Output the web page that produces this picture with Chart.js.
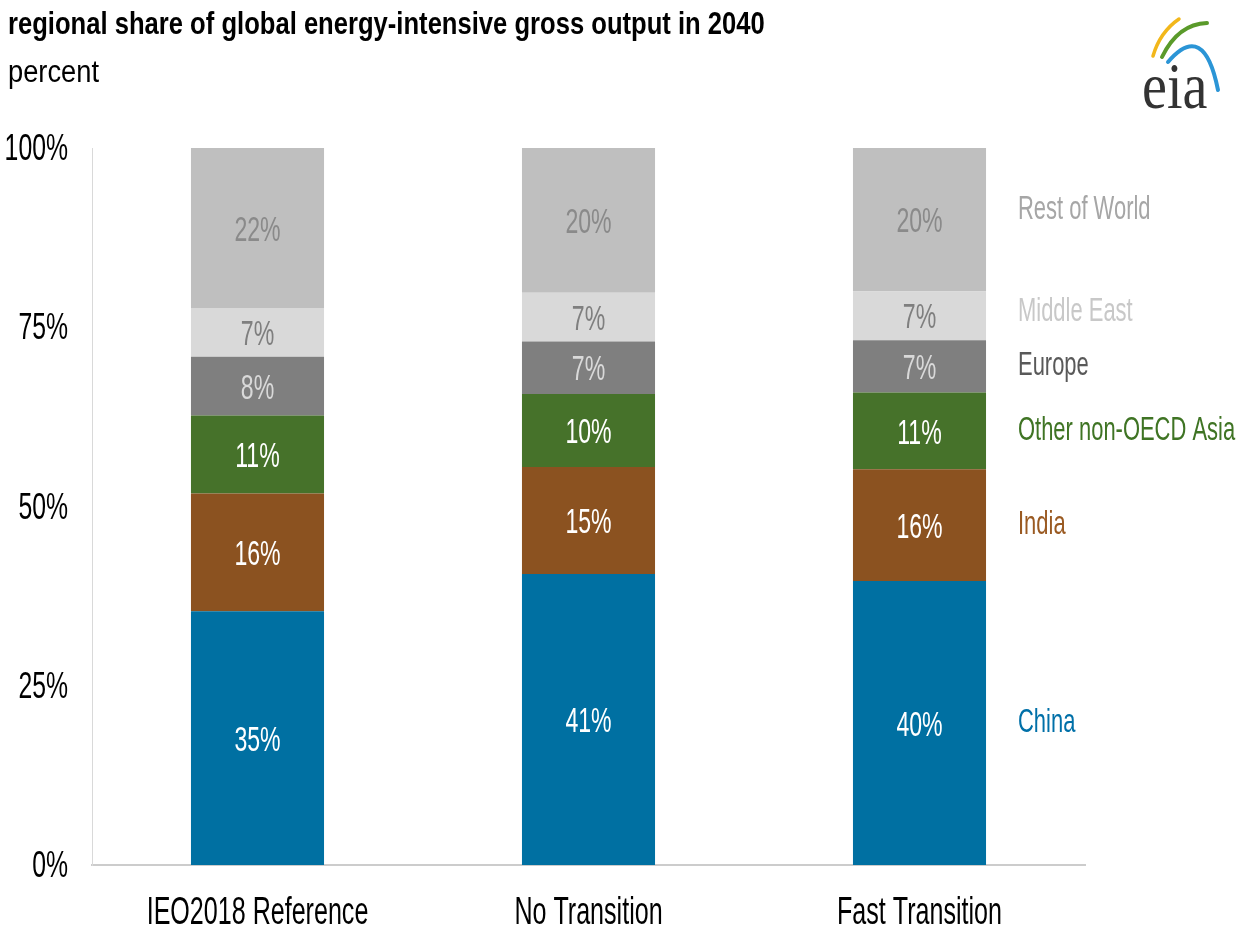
<!DOCTYPE html>
<html>
<head>
<meta charset="utf-8">
<script src="https://cdn.jsdelivr.net/npm/chart.js@4"></script>
<style>
  html, body { margin: 0; padding: 0; background: #ffffff; }
  #wrap { position: relative; width: 1243px; height: 934px; overflow: hidden; }
  #chart { position: absolute; left: 0; top: 0; }
  .ttl { position: absolute; left: 8px; font-family: "Liberation Sans", Arial, sans-serif; color: #000; white-space: nowrap; transform-origin: 0 0; }
  #title { top: 5px; font-size: 32px; font-weight: bold; transform: scaleX(0.80); }
  #unit { top: 54px; font-size: 31px; transform: scaleX(0.88); }
  #logo { position: absolute; left: 1100px; top: 0px; width: 143px; height: 120px; }
</style>
</head>
<body>
<div id="wrap">
  <canvas id="chart" width="1243" height="934"></canvas>
  <div id="title" class="ttl">regional share of global energy-intensive gross output in 2040</div>
  <div id="unit" class="ttl">percent</div>
  <svg id="logo" viewBox="1100 0 143 120">
    <path d="M1153 56 Q1160 32 1179 19" stroke="#f2b71b" stroke-width="3.5" fill="none" stroke-linecap="round"/>
    <path d="M1162 57 Q1178 24 1207 23" stroke="#5a9a2a" stroke-width="4" fill="none" stroke-linecap="round"/>
    <path d="M1168 62 Q1204 20 1218 90" stroke="#2b95d6" stroke-width="4" fill="none" stroke-linecap="round"/>
    <text x="1142" y="108" transform="translate(1142 0) scale(0.85 1) translate(-1142 0)" font-family="Liberation Serif, DejaVu Serif, serif" font-size="66" fill="#333333">eia</text>
  </svg>
</div>
<script>
// scenarios and regional shares (percent of global energy-intensive gross output, 2040)
const scenarios = ["IEO2018 Reference", "No Transition", "Fast Transition"];
const regions = ["China", "India", "Other non-OECD Asia", "Europe", "Middle East", "Rest of World"];
const china       = [35.4, 40.6, 39.6];
const india       = [16.4, 14.9, 15.6];
const otherAsia   = [10.9, 10.2, 10.7];
const europe      = [8.2, 7.3, 7.3];
const middleEast  = [6.8, 6.8, 6.8];
const restOfWorld = [22.3, 20.2, 20.0];
const yTicks = [0, 25, 50, 75, 100];

const seriesValues = [china, india, otherAsia, europe, middleEast, restOfWorld];
const fillColors  = ["#0070a2", "#8b5220", "#46722a", "#7f7f7f", "#d9d9d9", "#bfbfbf"];
const valueColors = ["#ffffff", "#ffffff", "#ffffff", "#d9d9d9", "#7f7f7f", "#8a8a8a"];
const nameColors  = ["#0070a8", "#9a5a22", "#3f7424", "#595959", "#c8c8c8", "#a6a6a6"];
const nameNudge   = [0, 0, 0, 0, -4, -10];

const FONT = '"Liberation Sans", Arial, sans-serif';

// narrow text: draw with a horizontal squeeze around the anchor point
function squeezedText(ctx, text, x, y, align, size, color, sx) {
  ctx.save();
  ctx.translate(x, y);
  ctx.scale(sx, 1);
  ctx.font = size + "px " + FONT;
  ctx.fillStyle = color;
  ctx.textAlign = align;
  ctx.textBaseline = "middle";
  ctx.fillText(text, 0, 0);
  ctx.restore();
}

// axis labels, value labels in each segment, region names beside the last bar
const chartText = {
  id: "chartText",
  afterDraw(chart) {
    const ctx = chart.ctx;
    const xs = chart.scales.x, ys = chart.scales.y;
    yTicks.forEach(v => {
      squeezedText(ctx, v + "%", 68, ys.getPixelForValue(v) + 2, "right", 37, "#000", 0.67);
    });
    chart.data.labels.forEach((lab, j) => {
      squeezedText(ctx, lab, xs.getPixelForValue(j), 914, "center", 38, "#000", 0.66);
    });
    chart.data.datasets.forEach((ds, i) => {
      const meta = chart.getDatasetMeta(i);
      meta.data.forEach((bar, j) => {
        const v = ds.data[j];
        squeezedText(ctx, Math.round(v) + "%", bar.x, (bar.y + bar.base) / 2 + 3, "center", 35, valueColors[i], 0.66);
      });
    });
    const last = scenarios.length - 1;
    chart.data.datasets.forEach((ds, i) => {
      const bar = chart.getDatasetMeta(i).data[last];
      const y = (bar.y + bar.base) / 2 + nameNudge[i];
      squeezedText(ctx, ds.label, 1018, y, "left", 33, nameColors[i], 0.665);
    });
  }
};

new Chart(document.getElementById("chart"), {
  type: "bar",
  data: {
    labels: scenarios,
    datasets: regions.map((r, i) => ({
      label: r,
      data: seriesValues[i],
      backgroundColor: fillColors[i],
      borderWidth: 0,
      categoryPercentage: 1,
      barPercentage: 0.402
    }))
  },
  options: {
    responsive: false,
    animation: false,
    layout: { padding: { top: 148, right: 158, left: 0, bottom: 0 } },
    plugins: { legend: { display: false }, tooltip: { enabled: false } },
    scales: {
      x: {
        stacked: true,
        grid: { display: false, drawTicks: false },
        border: { display: true, color: "#cccccc", width: 2 },
        ticks: { display: false },
        afterFit(s) { s.height = 69; }
      },
      y: {
        stacked: true,
        min: 0,
        max: 100,
        afterBuildTicks(s) { s.ticks = yTicks.map(v => ({ value: v })); },
        grid: { display: false, drawTicks: false },
        border: { display: true, color: "#d9d9d9", width: 1 },
        ticks: { display: false },
        afterFit(s) { s.width = 92; }
      }
    }
  },
  plugins: [chartText]
});
</script>
</body>
</html>
